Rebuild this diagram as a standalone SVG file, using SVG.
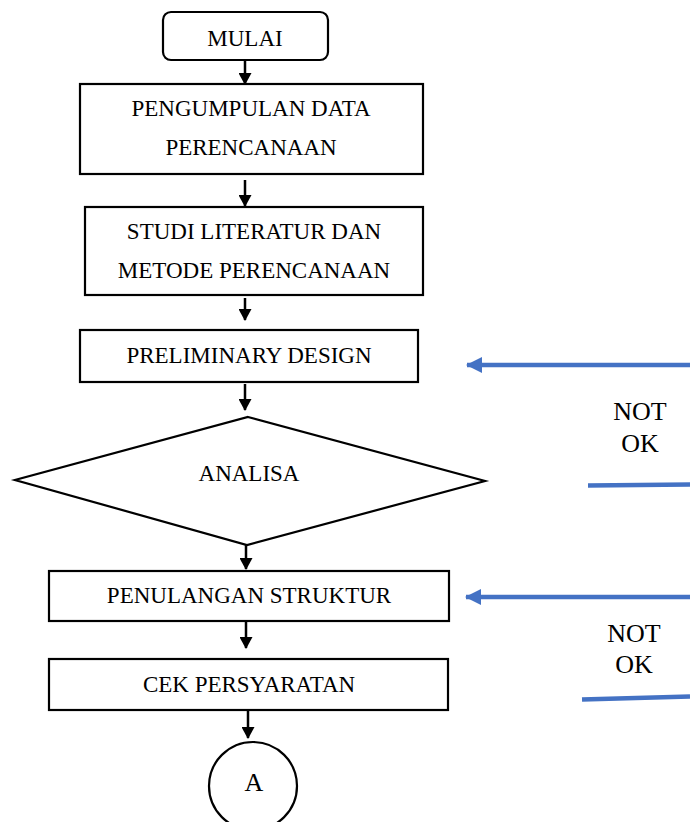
<svg xmlns="http://www.w3.org/2000/svg" width="690" height="822" viewBox="0 0 690 822">
<defs>
<style>
.box{fill:#fff;stroke:#000;stroke-width:2.2}
.t{font-family:"Liberation Serif","Times New Roman",serif;font-size:23px;fill:#000;text-anchor:middle}
.n{font-family:"Liberation Serif","Times New Roman",serif;font-size:26px;fill:#000;text-anchor:middle}
.c{stroke:#000;stroke-width:2.5;fill:none}
.b{stroke:#4472C4;stroke-width:4.5;fill:none}
</style>
<marker id="ah" markerWidth="12" markerHeight="13" viewBox="0 0 12 13" refX="11" refY="6.5" orient="auto" markerUnits="userSpaceOnUse">
<path d="M0,0 L12,6.5 L0,13 Z" fill="#000"/>
</marker>
<marker id="bh" markerWidth="16" markerHeight="16" viewBox="0 0 16 16" refX="15" refY="8" orient="auto" markerUnits="userSpaceOnUse">
<path d="M0,0 L16,8 L0,16 Z" fill="#4472C4"/>
</marker>
</defs>
<rect width="690" height="822" fill="#fff"/>
<g id="mulai"><rect class="box" x="163" y="12" width="165" height="48" rx="8"/><text class="t" x="245" y="46">MULAI</text></g>
<g id="pengumpulan"><rect class="box" x="80" y="84" width="343" height="90"/><text class="t" x="251" y="116">PENGUMPULAN DATA</text><text class="t" x="251" y="155">PERENCANAAN</text></g>
<g id="studi"><rect class="box" x="85" y="207" width="338" height="88"/><text class="t" x="254" y="239">STUDI LITERATUR DAN</text><text class="t" x="254" y="278">METODE PERENCANAAN</text></g>
<g id="preliminary"><rect class="box" x="80" y="330" width="338" height="52"/><text class="t" x="249" y="363">PRELIMINARY DESIGN</text></g>
<g id="analisa"><polygon class="box" points="248,417 485,481 247,545 15,480"/><text class="t" x="249" y="481">ANALISA</text></g>
<g id="penulangan"><rect class="box" x="49" y="571" width="400" height="50"/><text class="t" x="249" y="603">PENULANGAN STRUKTUR</text></g>
<g id="cek"><rect class="box" x="49" y="659" width="399" height="51"/><text class="t" x="249" y="692">CEK PERSYARATAN</text></g>
<g id="a"><ellipse class="box" cx="253" cy="786" rx="44" ry="44"/><text class="t" x="254" y="791" style="font-size:26px">A</text></g>
<g id="labels"><text class="n" x="640" y="420">NOT</text><text class="n" x="640" y="452">OK</text><text class="n" x="634" y="642">NOT</text><text class="n" x="634" y="673">OK</text></g>
<g id="connectors">
<line class="c" x1="245" y1="60" x2="245" y2="84" marker-end="url(#ah)"/>
<line class="c" x1="245" y1="180" x2="245" y2="206" marker-end="url(#ah)"/>
<line class="c" x1="245" y1="298" x2="245" y2="320" marker-end="url(#ah)"/>
<line class="c" x1="245" y1="384" x2="245" y2="410" marker-end="url(#ah)"/>
<line class="c" x1="246" y1="545" x2="246" y2="569" marker-end="url(#ah)"/>
<line class="c" x1="246" y1="622" x2="246" y2="648" marker-end="url(#ah)"/>
<line class="c" x1="248" y1="710" x2="248" y2="738" marker-end="url(#ah)"/>
<line class="b" x1="690" y1="365" x2="467" y2="365" marker-end="url(#bh)"/>
<line class="b" x1="588" y1="485.5" x2="690" y2="484.5"/>
<line class="b" x1="690" y1="597" x2="466" y2="597" marker-end="url(#bh)"/>
<line class="b" x1="582" y1="699.5" x2="690" y2="696.5"/>
</g>
</svg>
